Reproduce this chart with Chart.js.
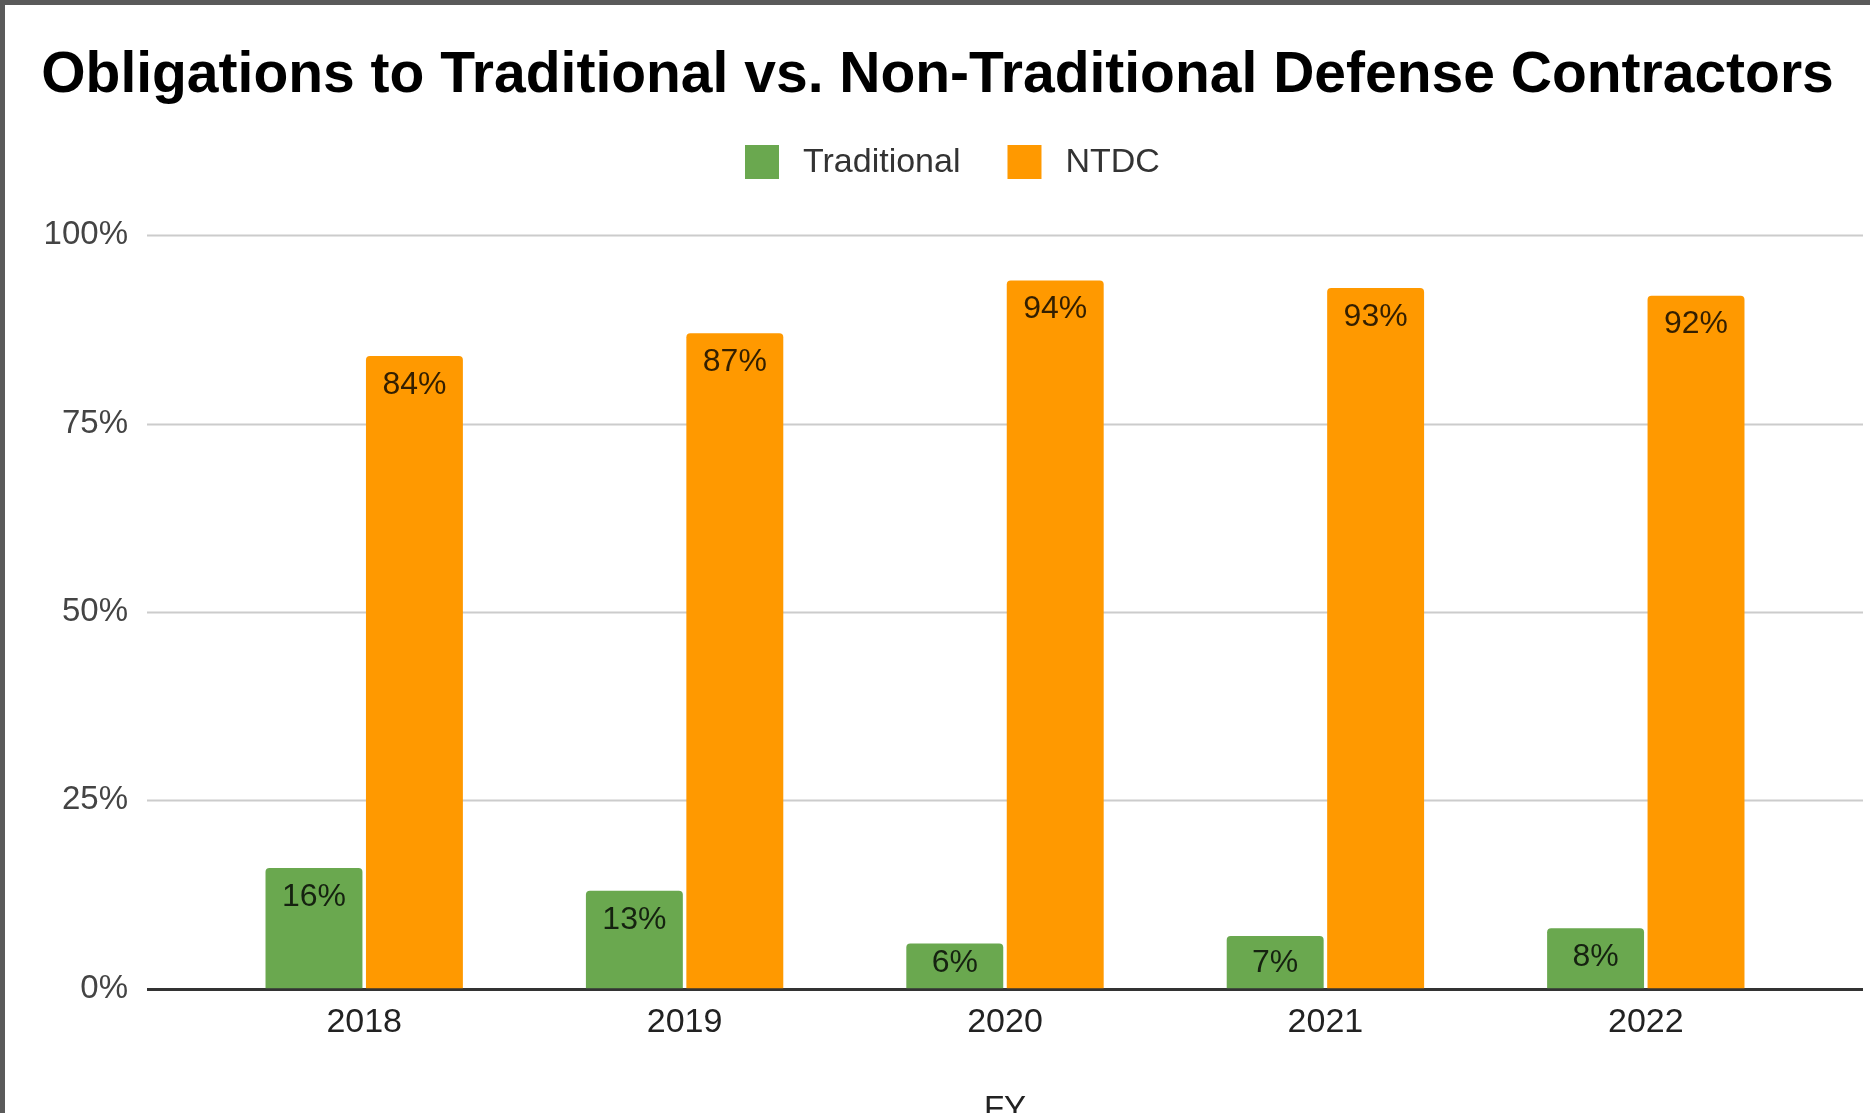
<!DOCTYPE html>
<html>
<head>
<meta charset="utf-8">
<script src="https://cdn.jsdelivr.net/npm/chart.js@4.4.1/dist/chart.umd.min.js"></script>
<style>
  html, body { margin: 0; padding: 0; background: #fff; overflow: hidden; }
  #frame {
    position: absolute; left: 0; top: 0;
    width: 1865px; height: 1129px;
    border-top: 5px solid #5a5a5a; border-left: 5px solid #5a5a5a;
  }
  #wrap { position: relative; width: 1865px; height: 1129px; }
</style>
</head>
<body>
<div id="frame"><div id="wrap"><canvas id="chart"></canvas></div></div>
<script>
// chart data
const titleText = 'Obligations to Traditional vs. Non-Traditional Defense Contractors';
const years = ['2018', '2019', '2020', '2021', '2022'];
const traditional = [16, 13, 6, 7, 8];
const ntdc = [84, 87, 94, 93, 92];
const yTicks = [0, 25, 50, 75, 100];
const xTitle = 'FY';

const FONT = "'Liberation Sans', Arial, sans-serif";
const GREEN = '#6aa84f';
const ORANGE = '#ff9900';

// gridlines run past the category area, like the google chart
const gridPlugin = {
  id: 'gridExt',
  beforeDatasetsDraw(chart) {
    const { ctx, chartArea, scales } = chart;
    const ext = 57;
    ctx.save();
    yTicks.forEach(v => {
      const y = Math.round(scales.y.getPixelForValue(v)) + 0.5;
      ctx.beginPath();
      ctx.strokeStyle = v === 0 ? '#333333' : '#cccccc';
      ctx.lineWidth = v === 0 ? 3 : 2;
      ctx.moveTo(chartArea.left - ext, y);
      ctx.lineTo(chartArea.right + ext, y);
      ctx.stroke();
    });
    ctx.restore();
  }
};

// legend drawn by hand so the gap under it matches
const legendPlugin = {
  id: 'legendHand',
  afterDraw(chart) {
    const { ctx } = chart;
    const cy = 157;
    let x = 740;
    ctx.save();
    ctx.font = '34px ' + FONT;
    ctx.textBaseline = 'middle';
    chart.data.datasets.forEach(ds => {
      ctx.fillStyle = ds.backgroundColor;
      ctx.fillRect(x, cy - 17, 34, 34);
      x += 34 + 24;
      ctx.fillStyle = '#333333';
      ctx.fillText(ds.label, x, cy + 1);
      x += ctx.measureText(ds.label).width + 47;
    });
    ctx.restore();
  }
};

// value labels inside the top of each bar
const labelPlugin = {
  id: 'barLabels',
  afterDatasetsDraw(chart) {
    const { ctx } = chart;
    const base = chart.scales.y.getPixelForValue(0);
    ctx.save();
    ctx.font = '32px ' + FONT;
    ctx.fillStyle = 'rgba(0,0,0,0.8)';
    ctx.textAlign = 'center';
    ctx.textBaseline = 'middle';
    chart.data.datasets.forEach((ds, i) => {
      chart.getDatasetMeta(i).data.forEach((bar, j) => {
        const y = Math.min(bar.y + 29, base - 25);
        ctx.fillText(ds.data[j] + '%', bar.x, y);
      });
    });
    ctx.restore();
  }
};

const ctx = document.getElementById('chart');
new Chart(ctx, {
  type: 'bar',
  data: {
    labels: years,
    datasets: [{
      label: 'Traditional',
      data: traditional,
      backgroundColor: GREEN,
      borderRadius: { topLeft: 4, topRight: 4 },
      borderSkipped: 'start'
    }, {
      label: 'NTDC',
      data: ntdc,
      backgroundColor: ORANGE,
      borderRadius: { topLeft: 4, topRight: 4 },
      borderSkipped: 'start'
    }]
  },
  plugins: [gridPlugin, legendPlugin, labelPlugin],
  options: {
    responsive: true,
    maintainAspectRatio: false,
    animation: false,
    devicePixelRatio: 1,
    categoryPercentage: 0.627,
    barPercentage: 0.965,
    layout: { padding: 0 },
    plugins: {
      legend: { display: false },
      tooltip: { enabled: false },
      title: {
        display: true,
        text: titleText,
        color: '#000000',
        font: { family: FONT, size: 57, weight: 'bold', lineHeight: 1.2 },
        padding: { top: 37, bottom: 125 }
      }
    },
    scales: {
      x: {
        grid: { display: false },
        border: { display: false },
        ticks: {
          color: '#222222',
          font: { family: FONT, size: 34 },
          padding: 6,
          maxRotation: 0
        },
        title: {
          display: true,
          text: xTitle,
          color: '#222222',
          font: { family: FONT, size: 33 },
          padding: { top: 41, bottom: 4 }
        }
      },
      y: {
        min: 0,
        max: 100,
        grid: { display: false },
        border: { display: false },
        afterFit(scale) { scale.width = 199; },
        ticks: {
          stepSize: 25,
          color: '#444444',
          font: { family: FONT, size: 33 },
          padding: 68,
          callback: v => v + '%'
        }
      },
      // empty right axis, only keeps room at the right edge
      yRight: {
        position: 'right',
        display: true,
        grid: { display: false },
        border: { display: false },
        ticks: { display: false },
        afterFit(scale) { scale.width = 64; }
      }
    }
  }
});
</script>
</body>
</html>
